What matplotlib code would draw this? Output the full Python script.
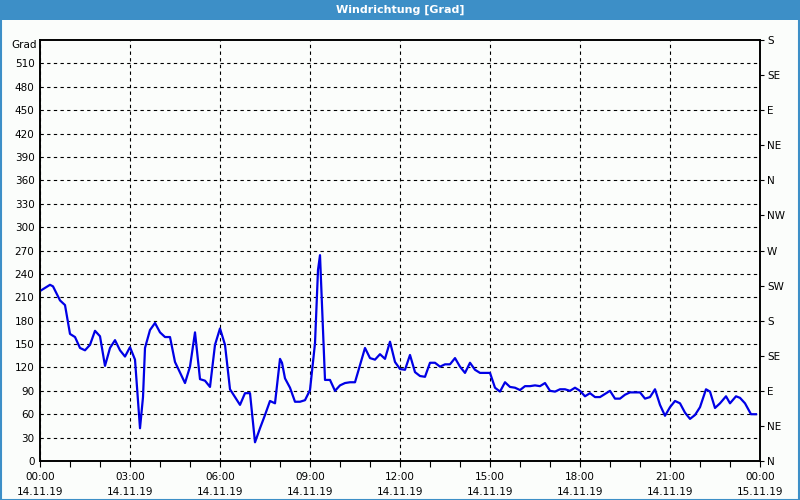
import matplotlib
matplotlib.use("Agg")
import matplotlib.pyplot as plt
from matplotlib.patches import Rectangle
from matplotlib.ticker import MultipleLocator, FixedLocator

# minutes since 14.11.19 00:00
minutes = [0, 20, 26, 40, 50, 60, 70, 80, 90, 100, 110, 120, 130, 140, 150, 160, 170, 180,
           190, 194, 200, 206, 210, 220, 230, 240, 250, 260, 270, 290, 300, 310, 320, 330,
           340, 350, 360, 370, 380, 390, 400, 410, 420, 430, 440, 450, 460, 470, 480, 484,
           490, 500, 510, 520, 530, 540, 550, 556, 560, 570, 580, 590, 600, 610, 620, 630,
           650, 660, 670, 680, 690, 700, 710, 720, 730, 740, 750, 760, 770, 780, 790, 800,
           810, 820, 830, 840, 850, 860, 870, 880, 900, 910, 920, 930, 940, 950, 960, 970,
           980, 990, 1000, 1010, 1020, 1030, 1040, 1050, 1060, 1070, 1080, 1090, 1100, 1110,
           1120, 1130, 1140, 1150, 1160, 1170, 1180, 1190, 1200, 1210, 1220, 1230, 1240,
           1250, 1260, 1270, 1280, 1290, 1300, 1310, 1320, 1332, 1340, 1350, 1360, 1372,
           1380, 1392, 1400, 1410, 1422, 1432]
values = [218, 226, 224, 206, 200, 163, 159, 145, 142, 149, 167, 160, 122, 145, 155, 142, 134, 146,
          130, 94, 42, 82, 145, 168, 177, 165, 159, 159, 127, 100, 121, 165, 105, 103,
          95, 149, 170, 149, 92, 82, 72, 87, 87, 24, 42, 59, 77, 74, 131, 126,
          106, 94, 76, 76, 78, 91, 151, 245, 264, 104, 104, 90, 97, 100, 101, 101,
          145, 132, 130, 137, 131, 153, 127, 118, 117, 136, 114, 109, 108, 126, 126, 121,
          124, 124, 132, 121, 113, 126, 117, 113, 113, 94, 89, 101, 95, 94, 91, 96,
          96, 97, 96, 100, 90, 89, 92, 92, 90, 94, 90, 83, 87, 82,
          82, 86, 90, 80, 80, 85, 88, 88, 88, 80, 82, 92, 72,
          58, 69, 77, 74, 62, 54, 59, 69, 92, 89, 68, 74, 83,
          74, 83, 81, 74, 60, 60]

x_tick_labels = ["00:00\n14.11.19", "03:00\n14.11.19", "06:00\n14.11.19", "09:00\n14.11.19",
                 "12:00\n14.11.19", "15:00\n14.11.19", "18:00\n14.11.19", "21:00\n14.11.19",
                 "00:00\n15.11.19"]
y_ticks = list(range(0, 541, 30))
dir_labels = ["N", "NE", "E", "SE", "S", "SW", "W", "NW", "N", "NE", "E", "SE", "S"]
dir_values = list(range(0, 541, 45))

bg = "#fbfdfb"
fig = plt.figure(figsize=(8, 5), dpi=100, facecolor=bg)

# title bar
fig.patches.append(Rectangle((0, 1 - 20 / 500), 1, 20 / 500, transform=fig.transFigure,
                             facecolor="#3d8fc7", edgecolor="none", zorder=0))
fig.text(0.5, 1 - 10 / 500, "Windrichtung [Grad]", ha="center", va="center",
         color="white", fontsize=8, fontweight="bold", family="DejaVu Sans")
# outer border
fig.patches.append(Rectangle((0.5 / 800, 0.5 / 500), 1 - 1.5 / 800, 1 - 1.5 / 500,
                             transform=fig.transFigure, facecolor="none",
                             edgecolor="#3d8fc7", linewidth=1.5, zorder=0))

ax = fig.add_axes([40 / 800, 39 / 500, 720 / 800, 421 / 500], facecolor=bg)
ax.plot([m / 60 for m in minutes], values, color="#0000e6", linewidth=1.6, zorder=3)

ax.set_xlim(0, 24)
ax.set_ylim(0, 540)
ax.xaxis.set_major_locator(MultipleLocator(3))
ax.xaxis.set_minor_locator(MultipleLocator(1))
ax.set_xticklabels([])
ax.set_xticks(list(range(0, 25, 3)))
ax.set_xticklabels(x_tick_labels, fontsize=7.5, linespacing=1.6)
ax.set_yticks(y_ticks[:-1])
ax.set_yticklabels([str(v) for v in y_ticks[:-1]], fontsize=7.5)

ax.grid(True, which="major", color="black", linestyle=(0, (3, 3)), linewidth=0.8)
ax.tick_params(axis="x", which="major", length=4, width=0.8, pad=4, direction="out")
ax.tick_params(axis="x", which="minor", length=4, width=0.8, direction="out")
ax.tick_params(axis="y", which="major", length=0, pad=4)
for s in ax.spines.values():
    s.set_linewidth(1.2)

ax.text(-0.004, 533, "Grad", transform=ax.get_yaxis_transform(), ha="right", va="center",
        fontsize=7.5)

ax2 = ax.twinx()
ax2.set_ylim(0, 540)
ax2.yaxis.set_major_locator(FixedLocator(dir_values))
ax2.set_yticklabels(dir_labels, fontsize=7.5)
ax2.tick_params(axis="y", length=3, width=0.8, pad=2)
for s in ax2.spines.values():
    s.set_linewidth(1.2)

fig.savefig("out.png", dpi=100, facecolor=bg)
